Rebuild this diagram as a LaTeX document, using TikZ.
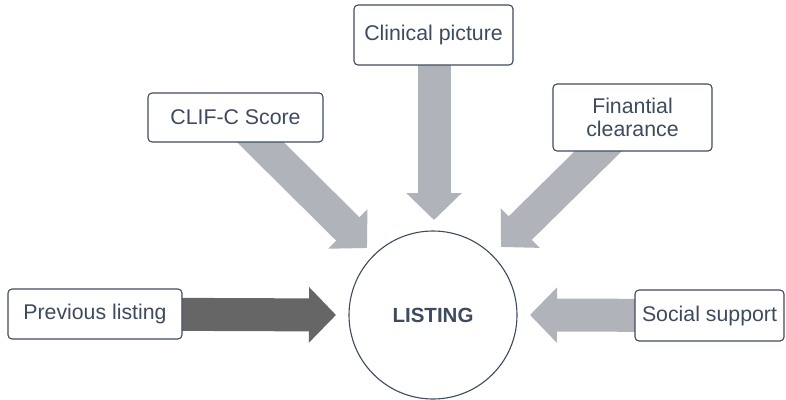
\documentclass[tikz,border=0pt]{standalone}
\usepackage{fontspec}
\setmainfont{Liberation Sans}
\usetikzlibrary{arrows.meta}
\definecolor{ink}{HTML}{3E4B5E}
\definecolor{lightarrow}{HTML}{B0B3BA}
\definecolor{darkarrow}{HTML}{666666}
\tikzset{
  box/.style={draw=ink, line width=1.1pt, rounded corners=4pt, fill=white, text=ink,
    inner sep=0pt, align=center, font=\fontsize{21.3}{23.5}\selectfont},
  bigarrow/.style={line width=33pt, -{Triangle[length=27pt,width=54pt]}},
  lightbig/.style={bigarrow, draw=lightarrow},
  darkbig/.style={bigarrow, draw=darkarrow},
}
\begin{document}
\begin{tikzpicture}[x=1pt,y=-1pt]
\useasboundingbox (0,0) rectangle (786,399);
% target tips
\coordinate (tprev) at (336,315);
\coordinate (tsoc) at (530,315);
\coordinate (tclin) at (434,220);
\coordinate (tclif) at (367,248);
\coordinate (tfin) at (501,247);
% box centres
\coordinate (cprev) at (95,314);
\coordinate (csoc) at (709.5,315.5);
\coordinate (cclin) at (434,35);
\coordinate (cclif) at (235.5,117.5);
\coordinate (cfin) at (632.5,117.5);
% arrows
\draw[darkbig] (cprev) -- (tprev);
\draw[lightbig] (csoc) -- (tsoc);
\draw[lightbig] (cclin) -- (tclin);
\draw[lightbig] (cclif) -- (tclif);
\draw[lightbig] (cfin) -- (tfin);
% boxes
\node[box, minimum width=174pt, minimum height=50pt] (prev) at (cprev) {Previous listing};
\node[box, minimum width=149pt, minimum height=51pt] (soc) at (csoc) {Social support};
\node[box, minimum width=159pt, minimum height=60pt] (clin) at (433.5,35) {Clinical picture};
\node[box, minimum width=175pt, minimum height=49pt] (clif) at (cclif) {CLIF-C Score};
\node[box, minimum width=159pt, minimum height=67pt] (fin) at (cfin) {Finantial\\clearance};
% centre
\node[circle, draw=ink, line width=1.1pt, fill=white, text=ink, minimum size=168pt, inner sep=0pt,
  font=\fontsize{20.5}{23}\selectfont\bfseries] (listing) at (433,315) {LISTING};
\end{tikzpicture}
\end{document}
